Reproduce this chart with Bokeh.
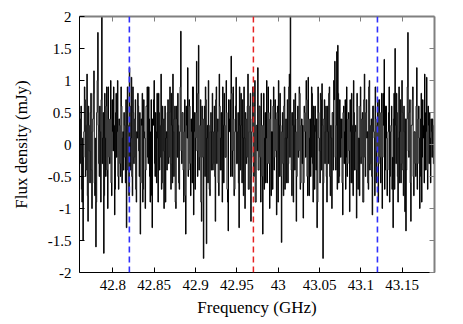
from bokeh.plotting import figure
from bokeh.models import Range1d, LinearAxis, FixedTicker, Span
from bokeh.embed import file_html
from bokeh.resources import INLINE
import numpy as np

# channel grid (GHz)
freq_start = 42.7605
freq_step = 0.000597

# flux density (mJy), channels read left to right (even channels)
flux_seg1 = [-0.3, 0.6, -0.9, -1.5, 0.2, 0.7, -0.4, 1.1, -1.2, 0.3, -0.6, 0.8, -1.0, 0.4, 1.15,
             -0.8, -1.6, 0.5, 1.75, -0.3, 0.6, -0.9, 2.3, 0.1, -1.7, 0.8, -0.5, 0.9, -1.0, 0.4,
             -0.3, 1.0, -0.8, 0.2, 0.9, -1.1, 0.5, -0.2, 1.0, -0.7, 0.3, -0.5, 0.6, 0.1, -0.4]
flux_seg2 = [0.3, -0.6, -1.3, 0.9, 0.2, 1.2, -0.4, 1.05, -0.8, 0.5, -0.2, 0.7, -0.9, 0.1, 0.6,
             -0.5, -1.4, 0.4, 0.8, -0.7, 0.2, -1.0, 0.6, 0.9, -0.3, 0.4, -0.9, 0.7, -1.3, 0.3,
             1.0, -0.5, 0.2, 0.8, -0.9, 0.5, -0.2, 1.1, -0.6, 0.4, -1.0, 0.6, 0.1, -0.4, 0.7]
flux_seg3 = [-0.2, 0.9, -0.7, 0.3, 1.1, -0.5, 0.6, -1.0, 0.4, 0.8, -0.6, 0.2, 1.77, -0.3, 0.5,
             -0.9, 0.7, -1.4, 0.3, 1.2, -0.4, 0.6, -0.8, 0.2, 0.9, -1.1, 0.5, 0.1, 1.3, -0.5,
             1.55, -0.2, 0.7, -1.2, 0.4, -1.78, 0.6, 0.9, -1.55, 0.3, 1.0, -0.7, 0.2, -0.4, 0.8]
flux_seg4 = [-0.3, 0.6, -1.2, 0.9, 0.2, -0.6, 1.1, -0.4, 0.5, -0.9, 0.3, 0.8, -0.2, 1.0, -0.7,
             -1.35, 0.4, 0.7, 1.38, -0.5, 0.9, -0.8, 0.2, 1.05, -0.3, 0.5, -1.3, 0.3, 0.8, -0.6,
             0.1, 0.9, -1.0, 0.4, -0.2, 1.1, -0.7, 0.6, -1.2, 0.2, 0.9, -0.5, 1.0, -0.9, 0.3]
flux_seg5 = [1.2, -0.4, 0.6, -0.9, 0.3, -1.4, 0.8, 0.1, -0.6, 1.0, -0.3, 0.5, -1.0, 0.7, 0.2,
             -0.7, 0.9, -0.2, 0.4, -1.1, 0.6, 1.0, -0.5, 0.3, -1.53, 0.5, -0.8, 0.9, 0.1, -0.6,
             0.7, -0.3, 1.1, 2.2, -0.4, 0.5, -0.9, 0.3, 0.8, -1.2, 0.4, -0.2, 0.9, -0.7, 0.3]
flux_seg6 = [-0.3, -1.15, 0.6, 0.2, 1.0, -0.5, 1.05, -0.8, 0.4, -0.2, 0.8, -0.9, 0.3, 0.6, -0.4,
             -1.3, 0.9, 0.1, -0.6, 0.7, 0.95, -1.78, 0.4, -0.3, 0.6, -0.9, 0.2, 0.8, -0.5, 0.3,
             -1.0, 0.5, 1.0, 1.3, -0.4, 1.45, 1.55, -0.6, 0.7, -0.2, 0.4, -1.1, 0.6, 0.2, -0.7]
flux_seg7 = [0.9, -0.3, 0.5, -1.05, 0.2, 0.8, -0.6, 1.0, -0.4, 0.3, -1.15, 0.6, 0.1, -0.8, 0.9,
             -0.2, 0.5, -0.9, 1.1, -0.5, 0.7, 0.2, -0.7, 1.0, -0.3, 0.4, -1.1, 0.6, 0.1, 0.9,
             -0.6, 0.3, -0.9, 0.7, -0.2, 0.5, -1.0, 0.8, 1.33, -0.4, 0.6, -0.8, 0.2, 0.9, -0.5]
flux_seg8 = [0.3, -0.7, -1.3, 0.8, 1.5, -0.3, 0.5, -0.9, 0.9, 0.2, -0.6, 1.0, -0.4, 0.6, -1.05,
             -1.35, 0.4, 1.75, -0.2, 0.7, -1.2, 0.3, 0.9, -0.8, 0.2, -0.5, 1.2, -0.3, 0.6, -1.0,
             0.4, -0.9, 0.7, 0.1, 1.1, -0.4, 1.05, -0.7, 0.3, 0.5, -0.6, 0.2, 0.4, -0.3, 0.1]

# flux density (mJy), odd channels in between
flux_odd1 = [0.4, -0.7, 0.1, -0.2, 0.9, -0.5, 0.3, -0.8, 0.6, -0.1, 0.5, -0.4, 0.2, 0.8, -0.6,
             0.1, -0.9, 1.0, 0.3, -0.5, 0.2, 0.7, -0.3, 0.5, -0.8, 0.1, 0.6, -0.4, 0.9, -0.2,
             0.4, -0.6, 0.7, -0.1, 0.3, -0.7, 0.8, 0.2, -0.5, 0.4, -0.3, 0.9, -0.6, 0.2, 0.5]
flux_odd2 = [-0.2, 0.7, -0.4, 0.3, -0.8, 0.6, 0.1, -0.5, 0.9, -0.3, 0.4, -0.7, 0.2, 0.8, -0.1,
             0.5, -0.6, 0.3, -0.9, 0.7, 0.1, -0.4, 0.6, -0.2, 0.9, -0.5, 0.2, -0.8, 0.4, 0.7,
             -0.3, 0.5, -0.6, 0.1, 0.8, -0.4, 0.3, -0.7, 0.6, -0.1, 0.4, -0.9, 0.2, 0.5, -0.3]
flux_odd3 = [0.5, -0.3, 0.8, -0.6, 0.2, 0.4, -0.9, 0.6, -0.2, 0.3, -0.7, 0.9, -0.1, 0.5, -0.4,
             0.2, -0.8, 0.6, 0.1, -0.5, 0.7, -0.3, 0.4, -0.6, 0.9, 0.2, -0.7, 0.5, -0.1, 0.8,
             -0.4, 0.3, -0.9, 0.6, -0.2, 0.4, -0.5, 0.7, 0.1, -0.6, 0.3, -0.8, 0.5, 0.2, -0.4]
flux_odd4 = [0.2, -0.5, 0.7, -0.3, 0.4, -0.8, 0.6, 0.1, -0.4, 0.9, -0.6, 0.3, -0.2, 0.5, -0.9,
             0.7, 0.2, -0.5, 0.8, -0.1, 0.4, -0.7, 0.6, -0.3, 0.2, -0.6, 0.9, -0.4, 0.3, 0.7,
             -0.8, 0.1, 0.5, -0.3, 0.6, -0.7, 0.2, 0.8, -0.5, 0.4, -0.2, 0.6, -0.9, 0.3, -0.1]
flux_odd5 = [-0.4, 0.6, -0.2, 0.8, -0.5, 0.3, -0.7, 0.5, 0.1, -0.6, 0.9, -0.3, 0.4, -0.8, 0.2,
             0.6, -0.4, 0.7, -0.1, 0.5, -0.9, 0.3, 0.8, -0.5, 0.2, -0.3, 0.6, -0.7, 0.4, 0.1,
             -0.6, 0.9, -0.2, 0.5, -0.8, 0.3, 0.7, -0.4, 0.2, -0.5, 0.6, -0.1, 0.8, -0.6, 0.4]
flux_odd6 = [0.3, -0.6, 0.5, -0.2, 0.7, -0.8, 0.4, 0.1, -0.5, 0.9, -0.3, 0.6, -0.7, 0.2, 0.4,
             -0.9, 0.5, -0.1, 0.8, -0.4, 0.3, -0.6, 0.7, 0.2, -0.5, 0.6, -0.3, 0.9, -0.8, 0.1,
             0.5, -0.4, 0.7, -0.2, 0.3, -0.7, 0.8, -0.5, 0.4, 0.1, -0.6, 0.5, -0.3, 0.7, -0.2]
flux_odd7 = [-0.5, 0.4, -0.1, 0.7, -0.6, 0.3, -0.8, 0.5, 0.2, -0.4, 0.8, -0.7, 0.1, 0.6, -0.3,
             0.4, -0.9, 0.7, -0.2, 0.5, 0.1, -0.6, 0.9, -0.4, 0.3, -0.5, 0.6, 0.2, -0.8, 0.4,
             -0.1, 0.7, -0.3, 0.5, -0.6, 0.8, -0.2, 0.3, -0.7, 0.6, 0.1, -0.4, 0.5, -0.9, 0.2]
flux_odd8 = [0.6, -0.2, 0.4, -0.7, 0.3, 0.8, -0.5, 0.1, -0.6, 0.7, -0.3, 0.5, -0.8, 0.2, 0.4,
             -0.4, 0.9, -0.1, 0.5, -0.6, 0.3, 0.7, -0.5, 0.2, -0.3, 0.6, -0.7, 0.4, 0.1, -0.5,
             0.8, -0.2, 0.3, -0.6, 0.5, 0.2, -0.4, 0.6, -0.3, 0.1, 0.4, -0.2, 0.3, -0.1, 0.2]

flux_even = (flux_seg1 + flux_seg2 + flux_seg3 + flux_seg4 + flux_seg5 +
             flux_seg6 + flux_seg7 + flux_seg8)
flux_odd = (flux_odd1 + flux_odd2 + flux_odd3 + flux_odd4 + flux_odd5 +
            flux_odd6 + flux_odd7 + flux_odd8)
flux = np.empty(len(flux_even) + len(flux_odd))
flux[0::2] = flux_even
flux[1::2] = flux_odd
freq = freq_start + freq_step * np.arange(len(flux))

# marker lines (GHz)
blue_lines = [42.82, 43.12]
red_lines = [42.97]

x_ticks = [42.8, 42.85, 42.9, 42.95, 43.0, 43.05, 43.1, 43.15]
x_tick_labels = {42.8: "42.8", 42.85: "42.85", 42.9: "42.9", 42.95: "42.95",
                 43.0: "43", 43.05: "43.05", 43.1: "43.1", 43.15: "43.15"}
y_ticks = [-2, -1.5, -1, -0.5, 0, 0.5, 1, 1.5, 2]
y_tick_labels = {-2: "-2", -1.5: "-1.5", -1: "-1", -0.5: "-0.5", 0: "0",
                 0.5: "0.5", 1: "1", 1.5: "1.5", 2: "2"}

FONT = "Liberation Serif"

p = figure(width=455, height=322, output_backend="svg", toolbar_location=None,
           x_range=Range1d(42.7597, 43.189), y_range=Range1d(-2, 2),
           min_border_left=79, min_border_right=21, min_border_top=16, min_border_bottom=50)
p.xgrid.visible = False
p.ygrid.visible = False
p.outline_line_color = None

p.step(freq, flux, mode="center", line_color="black", line_width=1)

for xv in blue_lines:
    p.add_layout(Span(location=xv, dimension="height", line_color="#2f2fff",
                      line_dash="6 4", line_width=1.6))
for xv in red_lines:
    p.add_layout(Span(location=xv, dimension="height", line_color="#e62222",
                      line_dash="6 4", line_width=1.5))

def style(ax, color, width=1):
    ax.major_tick_in = 5
    ax.major_tick_out = 0
    ax.minor_tick_in = 0
    ax.minor_tick_out = 0
    ax.axis_line_color = color
    ax.axis_line_width = width
    ax.major_tick_line_color = color
    ax.major_label_text_font = FONT
    ax.major_label_text_font_size = "15px"
    ax.major_label_text_color = "black"
    ax.axis_label_text_font = FONT
    ax.axis_label_text_font_size = "17px"
    ax.axis_label_text_font_style = "normal"
    ax.axis_label_text_color = "black"

xa = p.xaxis[0]
xa.ticker = FixedTicker(ticks=x_ticks)
xa.major_label_overrides = x_tick_labels
xa.axis_label = "Frequency (GHz)"
style(xa, "black")
xa.major_label_standoff = 7
xa.axis_label_standoff = 5

ya = p.yaxis[0]
ya.ticker = FixedTicker(ticks=y_ticks)
ya.major_label_overrides = y_tick_labels
ya.axis_label = "Flux density (mJy)"
style(ya, "black")
ya.major_label_standoff = 8
ya.axis_label_standoff = 14

# mirrored tick marks on top and right (no labels)
top = LinearAxis(ticker=FixedTicker(ticks=x_ticks),
                 major_label_overrides={t: "" for t in x_ticks})
style(top, "#808080", width=2)
top.major_label_standoff = 0
p.add_layout(top, "above")
right = LinearAxis(ticker=FixedTicker(ticks=y_ticks),
                   major_label_overrides={t: "" for t in y_ticks})
style(right, "#808080", width=2)
right.major_label_standoff = 0
p.add_layout(right, "right")

open("out.html", "w").write(file_html(p, INLINE))
